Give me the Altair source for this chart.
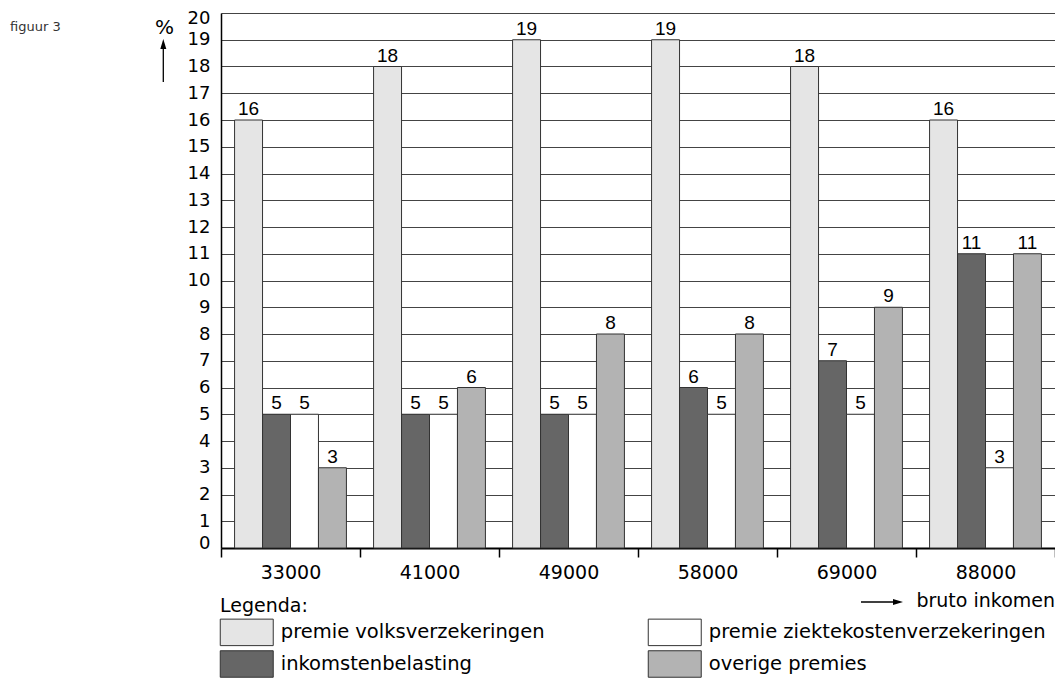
import altair as alt
import pandas as pd

# ---- data ----
incomes = ["33000", "41000", "49000", "58000", "69000", "88000"]
series = [
    "premie volksverzekeringen",
    "inkomstenbelasting",
    "premie ziektekostenverzekeringen",
    "overige premies",
]
volks = [16, 18, 19, 19, 18, 16]
inkomsten = [5, 5, 5, 6, 7, 11]
ziekte = [5, 5, 5, 5, 5, 3]
overige = [3, 6, 8, 8, 9, 11]
colors = ["#e5e5e5", "#666666", "#ffffff", "#b3b3b3"]
y_ticks = list(range(0, 21))

rows = []
for name, vals in zip(series, [volks, inkomsten, ziekte, overige]):
    for inc, v in zip(incomes, vals):
        rows.append({"inkomen": inc, "serie": name, "waarde": v})
df = pd.DataFrame(rows)

FONT = "DejaVu Sans"
LABEL_FONT = "Liberation Sans"

x_enc = alt.X(
    "inkomen:N",
    sort=incomes,
    title=None,
    scale=alt.Scale(paddingInner=0, paddingOuter=0),
    axis=alt.Axis(
        labelAngle=0,
        tickBand="extent",
        tickSize=9,
        tickColor="black",
        tickWidth=1.5,
        domainColor="black",
        domainWidth=2,
        labelPadding=6,
        labelFont=FONT,
        labelFontSize=19,
        labelColor="black",
        grid=False,
    ),
)
xoff_enc = alt.XOffset(
    "serie:N",
    sort=series,
    scale=alt.Scale(paddingInner=0, paddingOuter=0.485),
)
y_enc = alt.Y(
    "waarde:Q",
    title=None,
    scale=alt.Scale(domain=[0, 20], nice=False),
    axis=alt.Axis(
        values=y_ticks,
        ticks=False,
        labelPadding=11,
        labelFont=FONT,
        labelFontSize=18,
        labelColor="black",
        labelFlush=True,
        labelFlushOffset=4,
        grid=True,
        gridColor="#444444",
        gridWidth=1.2,
        domainColor="black",
        domainWidth=1.5,
    ),
)

bars = alt.Chart(df).mark_bar(stroke="#333333", strokeWidth=1).encode(
    x=x_enc,
    xOffset=xoff_enc,
    y=y_enc,
    color=alt.Color(
        "serie:N",
        scale=alt.Scale(domain=series, range=colors),
        legend=alt.Legend(
            orient="none",
            legendX=-1,
            legendY=584,
            columns=2,
            columnPadding=101,
            rowPadding=0,
            padding=0,
            title="Legenda:",
            titleFont=FONT,
            titleFontSize=19,
            titleFontWeight="normal",
            titleColor="black",
            titlePadding=2,
            symbolType="M-2,-1H2V1H-2Z",
            symbolSize=702,
            symbolOffset=12.75,
            symbolStrokeColor="#333333",
            symbolStrokeWidth=1,
            symbolOpacity=1,
            labelFont=FONT,
            labelFontSize=19.5,
            labelColor="black",
            labelLimit=600,
            labelOffset=20,
        ),
    ),
)

labels = alt.Chart(df).mark_text(
    font=LABEL_FONT, fontSize=19, baseline="alphabetic", dy=-5, color="black"
).encode(x=x_enc, xOffset=xoff_enc, y=y_enc, text="waarde:Q")

one = pd.DataFrame({"k": [0]})

pct = alt.Chart(one).mark_text(
    text="%", font=FONT, fontSize=20, color="black", baseline="alphabetic", align="center"
).encode(x=alt.value(-56.5), y=alt.value(21))
pct_line = alt.Chart(one).mark_rule(color="black", strokeWidth=1.3).encode(
    x=alt.value(-57.7), y=alt.value(34), y2=alt.value(69)
)
pct_head = alt.Chart(one).mark_point(
    shape="M-0.6,1L0,-1L0.6,1Z", size=100, filled=True, color="black", opacity=1
).encode(x=alt.value(-57.7), y=alt.value(31))

fig = alt.Chart(one).mark_text(
    text="figuur 3", font=FONT, fontSize=13, color="#333333", baseline="alphabetic", align="left"
).encode(x=alt.value(-211), y=alt.value(17.5))

bruto = alt.Chart(one).mark_text(
    text="bruto inkomen", font=FONT, fontSize=19, color="black", baseline="alphabetic", align="right"
).encode(x=alt.value(834), y=alt.value(594))
bruto_line = alt.Chart(one).mark_rule(color="black", strokeWidth=1.3).encode(
    x=alt.value(640), x2=alt.value(674), y=alt.value(589)
)
bruto_head = alt.Chart(one).mark_point(
    shape="M-1,-0.6L1,0L-1,0.6Z", size=100, filled=True, color="black", opacity=1
).encode(x=alt.value(677), y=alt.value(589))

chart = (
    alt.layer(bars, labels, pct, pct_line, pct_head, fig, bruto, bruto_line, bruto_head)
    .properties(
        width=834,
        height=535,
        autosize=alt.AutoSizeParams(type="none"),
        padding={"left": 213, "top": 5, "right": 0, "bottom": 130},
        background="white",
    )
    .configure_view(stroke=None)
)

chart.save("out.html", embed_options={"renderer": "svg", "actions": False})
